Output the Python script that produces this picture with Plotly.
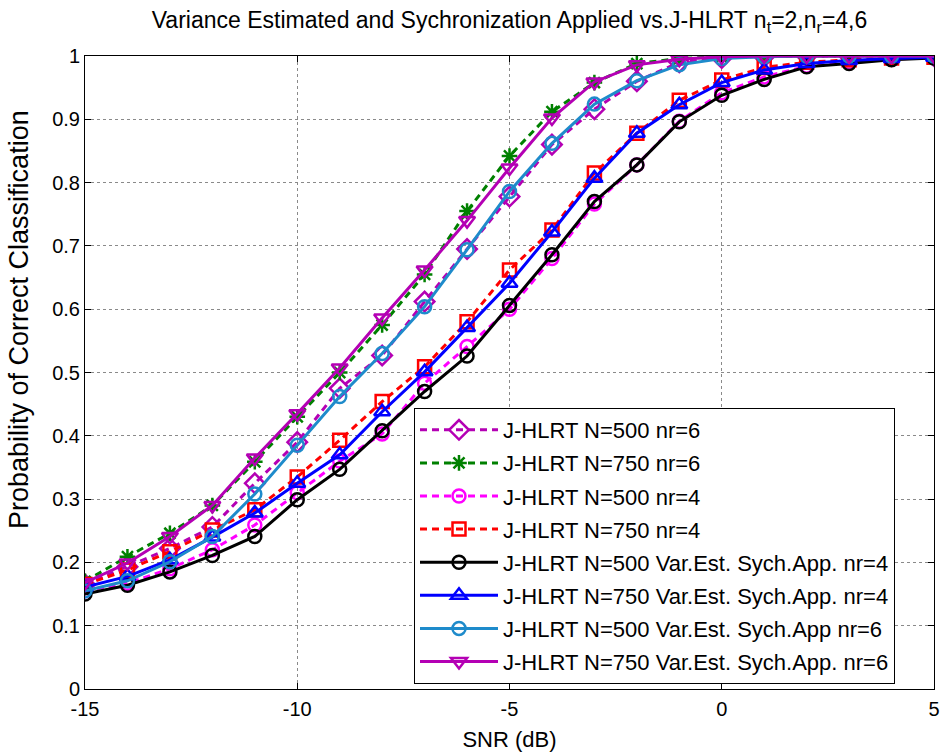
import plotly.graph_objects as go

snr = list(range(-15, 6))

jhlrt_n500_nr6 = [0.165, 0.193, 0.222, 0.256, 0.325, 0.39, 0.475, 0.527, 0.612, 0.695, 0.778, 0.86, 0.916, 0.96, 0.99, 0.997, 0.999, 1.0, 1.0, 1.0, 1.0]
jhlrt_n750_nr6 = [0.17, 0.209, 0.246, 0.29, 0.359, 0.43, 0.5, 0.575, 0.655, 0.755, 0.842, 0.912, 0.958, 0.988, 0.996, 0.999, 1.0, 1.0, 1.0, 1.0, 1.0]
jhlrt_n500_nr4 = [0.155, 0.167, 0.19, 0.22, 0.259, 0.31, 0.36, 0.403, 0.483, 0.541, 0.6, 0.68, 0.766, 0.828, 0.897, 0.942, 0.967, 0.984, 0.99, 0.995, 0.998]
jhlrt_n750_nr4 = [0.165, 0.188, 0.217, 0.251, 0.283, 0.335, 0.393, 0.454, 0.509, 0.58, 0.662, 0.725, 0.815, 0.878, 0.93, 0.962, 0.982, 0.99, 0.994, 0.997, 0.998]
ve_n500_nr4 = [0.15, 0.164, 0.185, 0.211, 0.241, 0.299, 0.347, 0.408, 0.47, 0.526, 0.606, 0.686, 0.77, 0.828, 0.896, 0.938, 0.963, 0.983, 0.988, 0.994, 0.997]
ve_n750_nr4 = [0.161, 0.178, 0.204, 0.24, 0.278, 0.325, 0.37, 0.438, 0.501, 0.571, 0.641, 0.722, 0.807, 0.878, 0.923, 0.958, 0.978, 0.988, 0.993, 0.996, 0.998]
ve_n500_nr6 = [0.155, 0.171, 0.201, 0.241, 0.308, 0.385, 0.462, 0.53, 0.604, 0.694, 0.786, 0.862, 0.924, 0.961, 0.986, 0.996, 0.999, 1.0, 1.0, 1.0, 1.0]
ve_n750_nr6 = [0.168, 0.199, 0.241, 0.29, 0.365, 0.435, 0.507, 0.586, 0.662, 0.74, 0.823, 0.902, 0.959, 0.986, 0.995, 0.999, 1.0, 1.0, 1.0, 1.0, 1.0]

x_ticks = [-15, -10, -5, 0, 5]
x_tick_labels = ["-15", "-10", "-5", "0", "5"]
y_ticks = [0, 0.1, 0.2, 0.3, 0.4, 0.5, 0.6, 0.7, 0.8, 0.9, 1]
y_tick_labels = ["0", "0.1", "0.2", "0.3", "0.4", "0.5", "0.6", "0.7", "0.8", "0.9", "1"]

series = [
    ("J-HLRT N=500 nr=6", jhlrt_n500_nr6, "#B400B4", "dash", "diamond-open", 15),
    ("J-HLRT N=750 nr=6", jhlrt_n750_nr6, "#008000", "dash", "asterisk-open", 13),
    ("J-HLRT N=500 nr=4", jhlrt_n500_nr4, "#FF00FF", "dash", "circle-open", 13),
    ("J-HLRT N=750 nr=4", jhlrt_n750_nr4, "#FF0000", "dash", "square-open", 13),
    ("J-HLRT N=500 Var.Est. Sych.App. nr=4", ve_n500_nr4, "#000000", "solid", "circle-open", 13),
    ("J-HLRT N=750 Var.Est. Sych.App. nr=4", ve_n750_nr4, "#0000FF", "solid", "triangle-up-open", 14),
    ("J-HLRT N=500 Var.Est. Sych.App nr=6", ve_n500_nr6, "#1E8BCB", "solid", "circle-open", 13),
    ("J-HLRT N=750 Var.Est. Sych.App. nr=6", ve_n750_nr6, "#B400B4", "solid", "triangle-down-open", 14),
]

fig = go.Figure()
for i, (name, ys, col, dash, sym, msize) in enumerate(series):
    fig.add_trace(go.Scatter(
        x=snr, y=ys, name=name, mode="lines+markers", legendgroup=f"g{i}",
        line=dict(color=col, width=3, dash="7px,5px" if dash == "dash" else "solid"),
        marker=dict(symbol=sym, size=msize, color=col, line=dict(color=col, width=2.5)),
    ))

font_family = "Liberation Sans, Arial, sans-serif"
axis_common = dict(
    showline=True, linecolor="black", linewidth=1, mirror="allticks",
    ticks="inside", ticklen=6, tickcolor="black", automargin=False,
    showgrid=True, gridcolor="#8a8a8a", gridwidth=1, griddash="dot",
    zeroline=False, tickfont=dict(size=20, color="black", family=font_family),
)

fig.update_layout(
    width=945, height=752,
    margin=dict(l=85, r=11, t=56, b=63),
    paper_bgcolor="white", plot_bgcolor="white",
    font=dict(family=font_family, color="black"),
    title=dict(
        text="Variance Estimated and Sychronization Applied vs.J-HLRT n<sub>t</sub>=2,n<sub>r</sub>=4,6",
        x=(85 + 934) / 2 / 945, xanchor="center", y=1 - 20 / 752, yanchor="middle",
        font=dict(size=23, family=font_family, color="black"),
    ),
    xaxis=dict(range=[-15, 5], tickvals=x_ticks, ticktext=x_tick_labels,
               ticklabelstandoff=2,
               title=dict(text="SNR (dB)", font=dict(size=22), standoff=12), **axis_common),
    yaxis=dict(range=[0, 1], tickvals=y_ticks, ticktext=y_tick_labels, **axis_common),
    legend=dict(
        x=(414 - 85) / 849, y=(689 - 408) / 633, xanchor="left", yanchor="top",
        bgcolor="white", bordercolor="black", borderwidth=1,
        font=dict(size=22, color="black", family=font_family),
        itemwidth=78, traceorder="grouped", tracegroupgap=1.5,
    ),
    showlegend=True,
    annotations=[dict(
        text="Probability of Correct Classification", textangle=-90,
        xref="paper", yref="paper", x=(19 - 85) / 849, y=(689 - 320) / 633,
        xanchor="center", yanchor="middle", showarrow=False,
        font=dict(size=27, color="black", family=font_family),
    )],
)

fig.write_html("out.html")
